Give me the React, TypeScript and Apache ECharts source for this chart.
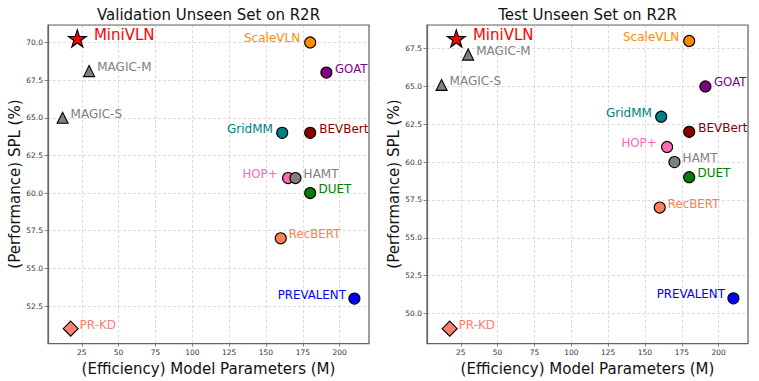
import React, { useEffect, useRef } from "react";
import * as echarts from "echarts";

// ---- data ----
const models = ["MiniVLN", "MAGIC-M", "MAGIC-S", "ScaleVLN", "GOAT", "GridMM", "BEVBert", "HOP+", "HAMT", "DUET", "RecBERT", "PREVALENT", "PR-KD"];
const paramsM = [22, 30, 12, 180, 191, 161, 180, 165, 170, 180, 160, 210, 17.5];
const splValUnseen = [70.2, 68.1, 65.0, 70.0, 68.0, 64.0, 64.0, 61.0, 61.0, 60.0, 57.0, 53.0, 51.0];
const splTestUnseen = [68.1, 67.1, 65.1, 68.0, 65.0, 63.0, 62.0, 61.0, 60.0, 59.0, 57.0, 51.0, 49.0];
const panelTitles = ["Validation Unseen Set on R2R", "Test Unseen Set on R2R"];
const xTitle = "(Efficiency) Model Parameters (M)";
const yTitle = "(Performance) SPL (%)";

// ---- styles (not data) ----
const STAR = "path://M0,-100 L22.45,-30.9 L95.11,-30.9 L36.33,11.8 L58.78,80.9 L0,38.2 L-58.78,80.9 L-36.33,11.8 L-95.11,-30.9 L-22.45,-30.9 Z";
type Sty = { color: string; symbol: string; size: number; side: "left" | "right"; gap: number; font: number; offY?: number };
const styles: Record<string, Sty> = {
  "MiniVLN": { color: "#ff0000", symbol: STAR, size: 18, side: "right", gap: 16, font: 15, offY: -1 },
  "MAGIC-M": { color: "#808080", symbol: "triangle", size: 11, side: "right", gap: 7.6, font: 12 },
  "MAGIC-S": { color: "#808080", symbol: "triangle", size: 11, side: "right", gap: 7.4, font: 12 },
  "ScaleVLN": { color: "#ff8c00", symbol: "circle", size: 11, side: "left", gap: 9.5, font: 12 },
  "GOAT": { color: "#800080", symbol: "circle", size: 11, side: "right", gap: 8, font: 11.8 },
  "GridMM": { color: "#008080", symbol: "circle", size: 11, side: "left", gap: 8.7, font: 12 },
  "BEVBert": { color: "#8b0000", symbol: "circle", size: 11, side: "right", gap: 8.4, font: 12 },
  "HOP+": { color: "#ff69b4", symbol: "circle", size: 11, side: "left", gap: 10, font: 11.8 },
  "HAMT": { color: "#808080", symbol: "circle", size: 11, side: "right", gap: 7.6, font: 12 },
  "DUET": { color: "#008000", symbol: "circle", size: 11, side: "right", gap: 7.7, font: 12 },
  "RecBERT": { color: "#ff7f50", symbol: "circle", size: 11, side: "right", gap: 7.6, font: 11.8 },
  "PREVALENT": { color: "#0000ff", symbol: "circle", size: 11, side: "left", gap: 8, font: 11.8 },
  "PR-KD": { color: "#fa8072", symbol: "diamond", size: 15, side: "right", gap: 8.3, font: 12 },
};

const FONT = "DejaVu Sans";

function extent(vals: number[]) {
  const lo = Math.min(...vals), hi = Math.max(...vals);
  const m = (hi - lo) * 0.05;
  return [lo - m, hi + m];
}

export default function App() {
  const ref = useRef<HTMLDivElement>(null);
  useEffect(() => {
    if (!ref.current) return;
    const chart = echarts.init(ref.current, null, { renderer: "svg" });
    const grids = [
      { left: 48, right: 390, top: 25, bottom: 37.3 },
      { left: 427, right: 11, top: 25, bottom: 37.3 },
    ];
    const xExt = extent(paramsM);
    const yVals = [splValUnseen, splTestUnseen];
    const common = {
      axisLine: { show: true, lineStyle: { color: "#666", width: 1.2 } },
      axisTick: { show: true, length: 3.5, lineStyle: { color: "#666", width: 0.8 } },
      splitLine: { show: true, lineStyle: { color: "#d4d4d4", type: [3, 2], width: 0.8 } },
    };
    const xAxis = [0, 1].map((i) => ({
      type: "value",
      gridIndex: i,
      min: xExt[0],
      max: xExt[1],
      minInterval: 25,
      maxInterval: 25,
      ...common,
      axisLabel: { showMinLabel: false, showMaxLabel: false, fontSize: 7.5, color: "#333", fontFamily: FONT, margin: 5, formatter: (v: number) => String(Math.round(v)) },
      name: xTitle,
      nameLocation: "middle",
      nameGap: 14,
      nameTextStyle: { fontSize: 15, fontFamily: FONT, color: "#111" },
    }));
    const yAxis = [0, 1].map((i) => {
      const e = extent(yVals[i]);
      return {
        type: "value",
        gridIndex: i,
        min: e[0],
        max: e[1],
        minInterval: 2.5,
        maxInterval: 2.5,
        ...common,
        axisLabel: { showMinLabel: false, showMaxLabel: false, fontSize: 7.5, color: "#333", fontFamily: FONT, margin: 5, formatter: (v: number) => v.toFixed(1) },
        name: yTitle,
        nameLocation: "middle",
        nameGap: 26,
        nameRotate: 90,
        nameTextStyle: { fontSize: 15, fontFamily: FONT, color: "#111" },
      };
    });
    const series: any[] = [];
    [0, 1].forEach((gi) => {
      models.forEach((m, k) => {
        const s = styles[m];
        series.push({
          type: "scatter",
          name: m,
          xAxisIndex: gi,
          yAxisIndex: gi,
          symbol: s.symbol,
          symbolSize: s.size,
          symbolKeepAspect: true,
          symbolOffset: [0, s.offY || 0],
          data: [[paramsM[k], yVals[gi][k]]],
          itemStyle: { color: s.color, borderColor: "#000", borderWidth: 1.1, opacity: 1 },
          label: {
            show: true,
            formatter: m,
            position: s.side,
            distance: s.gap - s.size / 2,
            offset: [0, -4 - (s.offY || 0)],
            color: s.color,
            fontSize: s.font,
            fontFamily: FONT,
          },
          emphasis: { disabled: true },
          z: 3,
        });
      });
    });
    chart.setOption({
      animation: false,
      backgroundColor: "#fff",
      textStyle: { fontFamily: FONT },
      grid: grids.map((g) => ({ ...g, show: false })),
      xAxis,
      yAxis,
      series,
      graphic: [
        { type: "text", x: 208.5, y: 15, style: { text: panelTitles[0], fontSize: 15, fontFamily: FONT, fill: "#111", align: "center", verticalAlign: "middle" } },
        { type: "text", x: 587.5, y: 15, style: { text: panelTitles[1], fontSize: 15, fontFamily: FONT, fill: "#111", align: "center", verticalAlign: "middle" } },
        { type: "rect", shape: { x: 48, y: 25, width: 321, height: 318.7 }, style: { fill: "none", stroke: "#666", lineWidth: 1.2 }, z: 10, silent: true },
        { type: "rect", shape: { x: 427, y: 25, width: 321, height: 318.7 }, style: { fill: "none", stroke: "#666", lineWidth: 1.2 }, z: 10, silent: true },
      ],
    });
    return () => chart.dispose();
  }, []);
  return <div ref={ref} style={{ width: 759, height: 381, position: "absolute", left: 0, top: 0 }} />;
}
